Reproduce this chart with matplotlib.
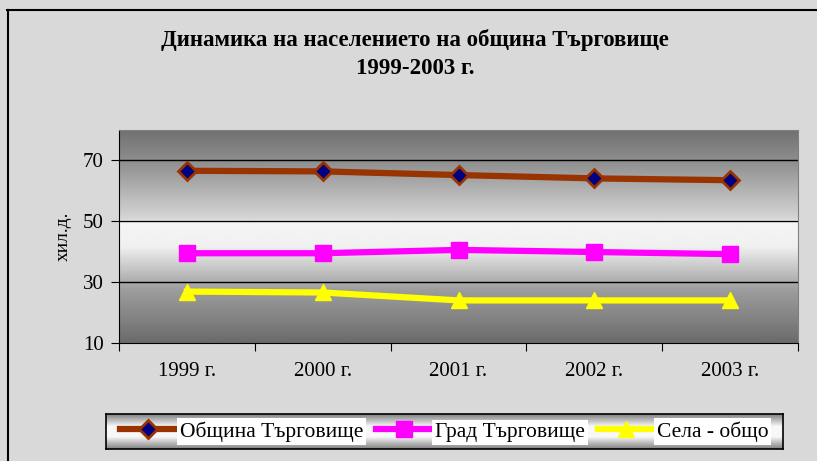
import numpy as np
import matplotlib
matplotlib.use('Agg')
import matplotlib.pyplot as plt
from matplotlib.lines import Line2D
from matplotlib.colors import LinearSegmentedColormap

plt.rcParams['font.family'] = ['Liberation Serif', 'DejaVu Serif']

# data (thousands of people)
years = ['1999 г.', '2000 г.', '2001 г.', '2002 г.', '2003 г.']
obshtina = [66.6, 66.4, 65.2, 64.1, 63.5]
grad = [39.5, 39.5, 40.6, 39.9, 39.2]
sela = [26.9, 26.6, 24.0, 24.0, 24.0]
yticks = [10, 30, 50, 70]

fig = plt.figure(figsize=(8.17, 4.61), dpi=100)
fig.patch.set_facecolor('#d9d9d9')

# frame lines at top and left
fig.add_artist(Line2D([7/817, 1], [1 - 10.5/461, 1 - 10.5/461], color='black', lw=1.5))
fig.add_artist(Line2D([7.5/817, 7.5/817], [0, 1 - 10.5/461], color='black', lw=1.5))

ax = fig.add_axes([119/817, 118/461, 679/817, 213/461])
x = np.arange(len(years))

# gradient fill of the plot area: dark at edges, light in the middle band
ys = np.linspace(0, 1, 200)
shade = np.interp(ys, [0, 0.25, 0.45, 0.57, 0.58, 0.85, 1.0],
                  [0.42, 0.62, 0.94, 0.96, 0.84, 0.56, 0.44])
cmap = LinearSegmentedColormap.from_list('g', ['black', 'white'])
ax.imshow(shade[:, None], aspect='auto', cmap=cmap, vmin=0, vmax=1,
          extent=[-0.5, len(years) - 0.5, 10, 80], origin='lower', zorder=0)

for yv in [30, 50, 70]:
    ax.axhline(yv, color='black', lw=1, zorder=1)

ax.plot(x, obshtina, color='#993300', lw=4.5, marker='D', ms=9,
        markerfacecolor='#000080', markeredgecolor='#993300', markeredgewidth=2, zorder=3)
ax.plot(x, grad, color='#ff00ff', lw=4.5, marker='s', ms=12,
        markerfacecolor='#ff00ff', markeredgecolor='#ff00ff', zorder=3)
ax.plot(x, sela, color='#ffff00', lw=4.5, marker='^', ms=12,
        markerfacecolor='#ffff00', markeredgecolor='#ffff00', zorder=3)

ax.set_xlim(-0.5, len(years) - 0.5)
ax.set_ylim(10, 80)
ax.set_yticks(yticks)
ax.set_yticklabels([str(v) for v in yticks], fontsize=15)
ax.set_xticks(np.arange(-0.5, len(years)))
ax.set_xticklabels([])
ax.set_xticks(x, minor=True)
ax.set_xticklabels(years, minor=True, fontsize=15)
ax.tick_params(axis='x', which='minor', length=0, pad=14)
ax.tick_params(axis='x', which='major', length=6, direction='out')
ax.tick_params(axis='y', length=6, direction='out', pad=5)
for s in ax.spines.values():
    s.set_color('#808080')
ax.spines['left'].set_color('black')
ax.spines['bottom'].set_color('black')
ax.set_ylabel('хил.д.', fontsize=14, labelpad=8)

fig.text(0.508, 1 - 40/461, 'Динамика на населението на община Търговище',
         ha='center', va='center', fontsize=16.5, fontweight='bold')
fig.text(0.508, 1 - 68/461, '1999-2003 г.', ha='center', va='center',
         fontsize=16.5, fontweight='bold')

# legend box with its own gradient
lax = fig.add_axes([106/817, 12/461, 677/817, 35/461])
lshade = np.interp(ys, [0, 0.35, 0.65, 1.0], [0.5, 0.97, 0.97, 0.5])
lax.imshow(lshade[:, None], aspect='auto', cmap=cmap, vmin=0, vmax=1,
           extent=[0, 1, 0, 1], origin='lower')
lax.set_xticks([])
lax.set_yticks([])
for s in lax.spines.values():
    s.set_color('black')
    s.set_linewidth(1.2)
handles = [
    Line2D([], [], color='#993300', lw=4.5, marker='D', ms=9, markerfacecolor='#000080',
           markeredgecolor='#993300', markeredgewidth=2),
    Line2D([], [], color='#ff00ff', lw=4.5, marker='s', ms=12),
    Line2D([], [], color='#ffff00', lw=4.5, marker='^', ms=12),
]
labels = ['Община Търговище', 'Град Търговище', 'Села - общо']
leg = lax.legend(handles, labels, ncol=3, loc='center', frameon=False, fontsize=15.5,
                 handlelength=2.6, handletextpad=0.15, columnspacing=0.6, borderpad=0)
for t in leg.get_texts():
    t.set_bbox(dict(facecolor='white', edgecolor='none', pad=2))

fig.savefig('out.png', dpi=100, facecolor=fig.get_facecolor())
